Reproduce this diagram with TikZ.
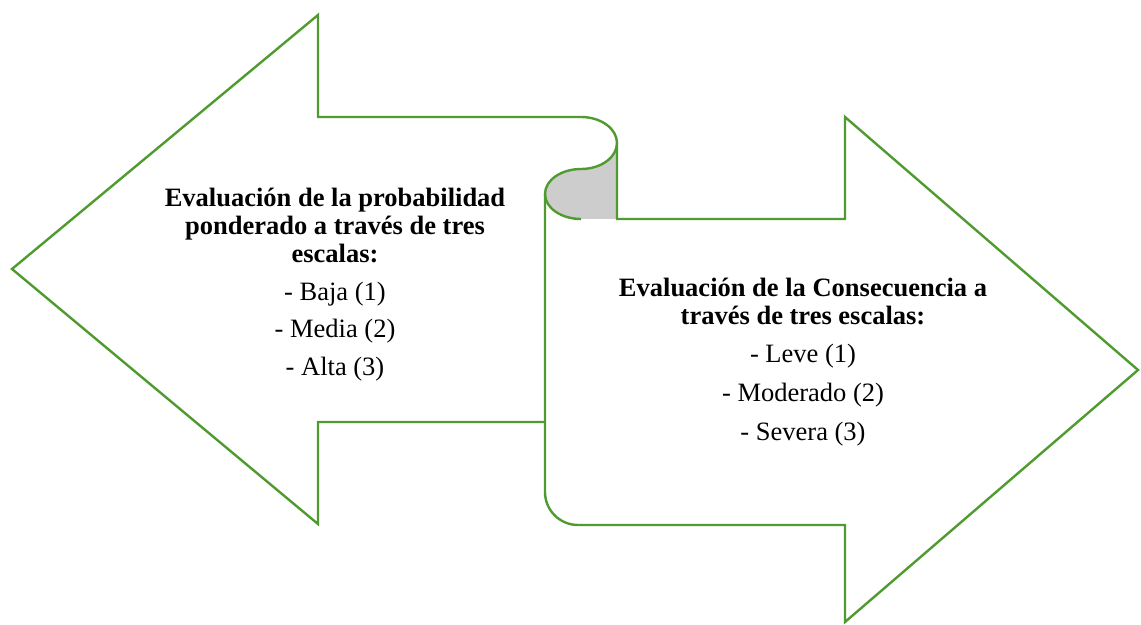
\documentclass[tikz,border=0pt]{standalone}
\usepackage{fontspec}
\setmainfont{Liberation Serif}
\definecolor{olgreen}{RGB}{80,155,48}
\definecolor{curlgray}{RGB}{205,205,205}
\tikzset{
  ol/.style={draw=olgreen, line width=2.4bp, line join=miter},
  curlfill/.style={fill=curlgray},
  title/.style={font=\bfseries\fontsize{26.6}{28}\selectfont, anchor=base, inner sep=0pt},
  item/.style={font=\fontsize{26.6}{28}\selectfont, anchor=base, inner sep=0pt}
}
\begin{document}
\begin{tikzpicture}[x=1bp,y=-1bp]
\useasboundingbox (0,0) rectangle (1141,625);
% gray inside of the curl
\fill[curlfill] (617,143) arc[start angle=0,end angle=90,x radius=36,y radius=26]
  arc[start angle=-90,end angle=-270,x radius=36,y radius=25] -- (617,219) -- cycle;
% left arrow with curl
\draw[ol] (545,422) -- (318,422) -- (318,524) -- (12,269) -- (318,15) -- (318,117) -- (581,117)
  arc[start angle=-90,end angle=90,x radius=36,y radius=26]
  arc[start angle=-90,end angle=-270,x radius=36,y radius=25];
% right arrow
\draw[ol] (617,143) -- (617,219) -- (845,219) -- (845,117) -- (1138,370) -- (845,622) -- (845,525)
  -- (578,525) arc[start angle=90,end angle=180,radius=33] -- (545,194);
% left texts
\node[title] (l1) at (335,207) {Evaluación de la probabilidad};
\node[title] (l2) at (335,235) {ponderado a través de tres};
\node[title] (l3) at (335,263) {escalas:};
\node[item] (l4) at (335,301) {- Baja (1)};
\node[item] (l5) at (335,338) {- Media (2)};
\node[item] (l6) at (335,375) {- Alta (3)};
% right texts
\node[title] (r1) at (803,297) {Evaluación de la Consecuencia a};
\node[title] (r2) at (803,325) {través de tres escalas:};
\node[item] (r3) at (803,362) {- Leve (1)};
\node[item] (r4) at (803,401) {- Moderado (2)};
\node[item] (r5) at (803,440) {- Severa (3)};
\end{tikzpicture}
\end{document}
